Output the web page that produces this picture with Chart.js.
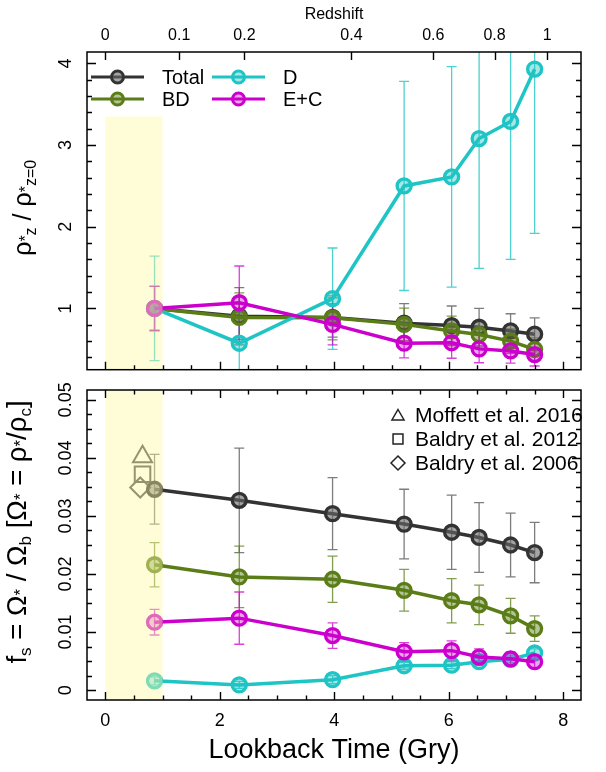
<!DOCTYPE html>
<html>
<head>
<meta charset="utf-8">
<script src="https://cdn.jsdelivr.net/npm/chart.js@4.4.1/dist/chart.umd.min.js"></script>
<style>
  html, body { margin: 0; padding: 0; background: #fff; }
  #wrap { position: relative; width: 606px; height: 772px; }
  #wrap canvas { position: absolute; left: 0; }
</style>
</head>
<body>
<div id="wrap">
  <canvas id="topPanel" width="606" height="380" style="top:0;width:606px;height:380px"></canvas>
  <canvas id="botPanel" width="606" height="395" style="top:377px;width:606px;height:395px"></canvas>
</div>
<script>
/* ---- data ---- */
const lookback = [0.86, 2.34, 3.97, 5.22, 6.05, 6.53, 7.08, 7.50];

// top panel: rho*_z / rho*_z=0
const rhoTotal    = [1.00, 0.905, 0.89, 0.82, 0.79, 0.77, 0.725, 0.685];
const rhoTotalErr = [0.27, 0.35, 0.24, 0.24, 0.24, 0.23, 0.21, 0.20];
const rhoBD       = [1.00, 0.89, 0.885, 0.805, 0.725, 0.68, 0.60, 0.50];
const rhoBDErr    = [0.27, 0.30, 0.27, 0.20, 0.18, 0.17, 0.15, 0.14];
const rhoD        = [1.00, 0.574, 1.12, 2.50, 2.61, 3.08, 3.29, 3.93];
const rhoDErr     = [0.64, 0.38, 0.62, 1.28, 1.35, 1.59, 1.69, 2.01];
const rhoEC       = [1.00, 1.07, 0.805, 0.575, 0.58, 0.505, 0.48, 0.435];
const rhoECErr    = [0.27, 0.45, 0.25, 0.18, 0.19, 0.17, 0.15, 0.14];

// bottom panel: f_s
const fsTotal    = [0.0346, 0.0327, 0.0304, 0.0286, 0.0272, 0.0263, 0.0250, 0.0237];
const fsTotalErr = [0.0060, 0.0090, 0.0062, 0.0060, 0.0064, 0.0060, 0.0055, 0.0052];
const fsBD       = [0.0216, 0.0195, 0.0191, 0.0172, 0.0154, 0.0147, 0.0128, 0.0106];
const fsBDErr    = [0.0038, 0.0053, 0.0040, 0.0036, 0.0038, 0.0034, 0.0030, 0.0022];
const fsD        = [0.0016, 0.0009, 0.0018, 0.0042, 0.0043, 0.0049, 0.0053, 0.0064];
const fsDErr     = [0.0007, 0.0006, 0.0007, 0.0006, 0.0006, 0.0006, 0.0006, 0.0007];
const fsEC       = [0.0117, 0.0124, 0.0094, 0.0066, 0.0068, 0.0057, 0.0054, 0.0049];
const fsECErr    = [0.0022, 0.0045, 0.0022, 0.0016, 0.0017, 0.0014, 0.0012, 0.0011];

// literature values at z~0
const refNames  = ['Moffett et al. 2016', 'Baldry et al. 2012', 'Baldry et al. 2006'];
const refX      = [0.65, 0.65, 0.61];
const refY      = [0.0402, 0.0372, 0.0349];
const refStyles = ['triangle', 'rect', 'rectRot'];

// axes
const xTicks     = [0, 2, 4, 6, 8];
const zLabels    = ['0', '0.1', '0.2', '0.4', '0.6', '0.8', '1'];
const zLookback  = [0, 1.29, 2.43, 4.30, 5.73, 6.80, 7.72];
const rhoTicks   = [1, 2, 3, 4];
const fsTicks    = [0, 0.01, 0.02, 0.03, 0.04, 0.05];
const bandRange  = [0, 1];

const X_MIN = -0.32, X_MAX = 8.31;
const FONT = '"Liberation Sans", Arial, Helvetica, sans-serif';

const COL = {
  total: { line: '#333333', fill: 'rgba(105,105,105,0.6)', err: 'rgba(70,70,70,0.7)' },
  bd:    { line: '#5a7d17', fill: 'rgba(90,125,23,0.45)',  err: 'rgba(90,125,23,0.75)' },
  d:     { line: '#1fc4c4', fill: 'rgba(31,196,196,0.4)',  err: 'rgba(31,196,196,0.8)' },
  ec:    { line: '#cc00cc', fill: 'rgba(204,0,204,0.35)',  err: 'rgba(204,0,204,0.75)' }
};

function series(label, ys, errs, col, order) {
  return {
    label, order,
    data: lookback.map((x, i) => ({ x, y: ys[i] })),
    err: errs, errColor: col.err,
    borderColor: col.line, backgroundColor: col.fill,
    borderWidth: 3.5, tension: 0,
    pointRadius: 7, pointBorderWidth: 3.3,
    pointBackgroundColor: col.fill, pointBorderColor: col.line
  };
}

/* ---- drawing helpers ---- */
function rich(ctx, parts, cx, cy, size) {
  ctx.save();
  ctx.translate(cx, cy);
  ctx.rotate(-Math.PI / 2);
  const fontOf = k => (k ? Math.round(size * 0.62) : size) + 'px ' + FONT;
  let w = 0;
  parts.forEach(([t, k]) => { ctx.font = fontOf(k); w += ctx.measureText(t).width; });
  let xx = -w / 2;
  ctx.fillStyle = '#000';
  ctx.textAlign = 'left';
  ctx.textBaseline = 'alphabetic';
  parts.forEach(([t, k]) => {
    ctx.font = fontOf(k);
    const dy = k === 'sub' ? size * 0.2 : 0;
    ctx.fillText(t, xx, size * 0.36 + dy);
    xx += ctx.measureText(t).width;
  });
  ctx.restore();
}

function marker(ctx, style, x, y, r) {
  ctx.beginPath();
  if (style === 'triangle') {
    ctx.moveTo(x, y - r);
    ctx.lineTo(x + r * 0.866, y + r * 0.5);
    ctx.lineTo(x - r * 0.866, y + r * 0.5);
    ctx.closePath();
  } else if (style === 'rect') {
    const s = r * 0.7071;
    ctx.rect(x - s, y - s, 2 * s, 2 * s);
  } else if (style === 'rectRot') {
    ctx.moveTo(x, y - r); ctx.lineTo(x + r, y); ctx.lineTo(x, y + r); ctx.lineTo(x - r, y);
    ctx.closePath();
  } else {
    ctx.arc(x, y, r, 0, Math.PI * 2);
  }
}

const panelPlugin = {
  id: 'panel',
  beforeDatasetsDraw(chart) {
    const { ctx, chartArea: a, scales: { x, y } } = chart;
    ctx.save();
    ctx.beginPath();
    ctx.rect(a.left, a.top, a.right - a.left, a.bottom - a.top);
    ctx.clip();
    ctx.lineWidth = 1.3;
    chart.data.datasets.forEach(ds => {
      if (!ds.err) return;
      ctx.strokeStyle = ds.errColor;
      ds.data.forEach((p, i) => {
        const px = x.getPixelForValue(p.x);
        const y1 = y.getPixelForValue(p.y - ds.err[i]);
        const y2 = y.getPixelForValue(p.y + ds.err[i]);
        ctx.beginPath();
        ctx.moveTo(px, y1); ctx.lineTo(px, y2);
        ctx.moveTo(px - 5, y1); ctx.lineTo(px + 5, y1);
        ctx.moveTo(px - 5, y2); ctx.lineTo(px + 5, y2);
        ctx.stroke();
      });
    });
    ctx.restore();
  },
  afterDatasetsDraw(chart, args, opts) {
    // pale band marking the local (z~0) normalisation bin
    const { ctx, chartArea: a, scales: { x, y } } = chart;
    const top = opts.bandTop == null ? a.top : y.getPixelForValue(opts.bandTop);
    const x0 = x.getPixelForValue(bandRange[0]), x1 = x.getPixelForValue(bandRange[1]);
    ctx.save();
    ctx.fillStyle = 'rgba(255,250,160,0.42)';
    ctx.fillRect(x0, top, x1 - x0, a.bottom - top);
    ctx.restore();
  },
  afterDraw(chart, args, opts) {
    const { ctx, chartArea: a, scales: { x, y } } = chart;
    ctx.save();
    ctx.strokeStyle = '#000';
    ctx.lineWidth = 1.4;

    // inward x ticks
    ctx.beginPath();
    for (let v = 0; v <= 8.001; v += 0.5) {
      const px = Math.round(x.getPixelForValue(v)) + 0.5;
      const len = Math.abs(v % 2) < 1e-6 ? 8 : 4.5;
      if (opts.tickBottom) { ctx.moveTo(px, a.bottom); ctx.lineTo(px, a.bottom - len); }
      if (opts.tickTop) { ctx.moveTo(px, a.top); ctx.lineTo(px, a.top + len); }
    }
    if (opts.zTop) {
      zLookback.forEach(v => {
        const px = Math.round(x.getPixelForValue(v)) + 0.5;
        ctx.moveTo(px, a.top); ctx.lineTo(px, a.top + 8);
      });
    }
    // inward y ticks, both sides
    const minorStep = opts.yMinor, nMin = Math.ceil(y.min / minorStep), nMax = Math.floor(y.max / minorStep);
    for (let n = nMin; n <= nMax; n++) {
      const v = n * minorStep;
      const py = Math.round(y.getPixelForValue(v)) + 0.5;
      const major = opts.yTicks.some(t => Math.abs(t - v) < minorStep * 0.01);
      const len = major ? 9 : 5;
      ctx.moveTo(a.left, py); ctx.lineTo(a.left + len, py);
      ctx.moveTo(a.right, py); ctx.lineTo(a.right - len, py);
    }
    ctx.stroke();

    // frame
    ctx.lineWidth = 1.5;
    ctx.strokeRect(a.left, a.top, a.right - a.left, a.bottom - a.top);

    // rotated y tick labels
    ctx.fillStyle = '#000';
    ctx.font = '18px ' + FONT;
    ctx.textAlign = 'center';
    ctx.textBaseline = 'middle';
    opts.yTicks.forEach((v, i) => {
      const py = y.getPixelForValue(v);
      ctx.save();
      ctx.translate(66, py);
      ctx.rotate(-Math.PI / 2);
      ctx.fillText(opts.yLabels[i], 0, 0);
      ctx.restore();
    });

    // y title
    rich(ctx, opts.yTitle, opts.titleX, (a.top + a.bottom) / 2 + opts.titleDy, opts.titleSize);

    // legend
    if (opts.legend === 'series') {
      ctx.font = '20px ' + FONT;
      ctx.textAlign = 'left';
      ctx.textBaseline = 'middle';
      opts.legendItems.forEach(it => {
        const ds = chart.data.datasets.find(d => d.label === it.label);
        ctx.strokeStyle = ds.borderColor;
        ctx.lineWidth = 3;
        ctx.beginPath(); ctx.moveTo(it.x, it.y); ctx.lineTo(it.x + 53, it.y); ctx.stroke();
        marker(ctx, 'circle', it.x + 26.5, it.y, 6);
        ctx.fillStyle = ds.pointBackgroundColor; ctx.fill(); ctx.stroke();
        ctx.fillStyle = '#000';
        ctx.fillText(it.label, it.x + 71, it.y + 1);
      });
    } else if (opts.legend === 'refs') {
      ctx.font = '21px ' + FONT;
      ctx.textAlign = 'left';
      ctx.textBaseline = 'middle';
      refNames.forEach((name, i) => {
        const ly = a.top + 25 + i * 24;
        ctx.strokeStyle = '#222';
        ctx.lineWidth = 1.5;
        marker(ctx, refStyles[i], 398, ly + (refStyles[i] === 'triangle' ? 1.5 : 0), 7);
        ctx.stroke();
        ctx.fillStyle = '#000';
        ctx.fillText(name, 415, ly + 1);
      });
    }
    ctx.restore();
  }
};

/* ---- top panel ---- */
new Chart(document.getElementById('topPanel'), {
  type: 'line',
  data: {
    datasets: [
      series('Total', rhoTotal, rhoTotalErr, COL.total, 4),
      series('BD', rhoBD, rhoBDErr, COL.bd, 3),
      series('D', rhoD, rhoDErr, COL.d, 2),
      series('E+C', rhoEC, rhoECErr, COL.ec, 1)
    ]
  },
  options: {
    responsive: false, animation: false, events: [],
    layout: { padding: { left: 87, right: 25, top: 0, bottom: 3 } },
    scales: {
      x: { type: 'linear', min: X_MIN, max: X_MAX, display: false },
      z: {
        type: 'linear', position: 'top', min: X_MIN, max: X_MAX,
        grid: { display: false, drawTicks: false }, border: { display: false },
        afterBuildTicks: s => { s.ticks = zLookback.map(v => ({ value: v })); },
        afterFit: s => { s.height = 52; },
        ticks: {
          autoSkip: false, maxRotation: 0, padding: 7, color: '#000',
          font: { family: FONT, size: 16 },
          callback: (v, i) => zLabels[i]
        },
        title: { display: true, text: 'Redshift', color: '#000', font: { family: FONT, size: 16 }, padding: { top: 5, bottom: 0 } }
      },
      y: { type: 'linear', min: 0.25, max: 4.14, display: false }
    },
    plugins: {
      legend: { display: false }, tooltip: { enabled: false },
      panel: {
        bandTop: 3.35, tickBottom: true, tickTop: false, zTop: true,
        yTicks: rhoTicks, yLabels: rhoTicks.map(String), yMinor: 0.2,
        titleX: 22, titleDy: -3, titleSize: 25,
        yTitle: [['ρ', ''], ['*', 'sup'], ['z', 'sub'], [' / ρ', ''], ['*', 'sup'], ['z=0', 'sub']],
        legend: 'series',
        legendItems: [
          { label: 'Total', x: 91, y: 77 }, { label: 'BD', x: 91, y: 99 },
          { label: 'D', x: 212, y: 77 }, { label: 'E+C', x: 212, y: 99 }
        ]
      }
    }
  },
  plugins: [panelPlugin]
});

/* ---- bottom panel ---- */
const refSet = {
  label: 'refs', order: 5, showLine: false,
  data: refX.map((x, i) => ({ x, y: refY[i] })),
  pointStyle: refStyles, pointRadius: [11, 11, 10], pointBorderWidth: 2,
  pointBorderColor: '#4a4a4a', pointBackgroundColor: 'rgba(0,0,0,0)', borderColor: '#4a4a4a'
};

new Chart(document.getElementById('botPanel'), {
  type: 'line',
  data: {
    datasets: [
      refSet,
      series('Total', fsTotal, fsTotalErr, COL.total, 4),
      series('BD', fsBD, fsBDErr, COL.bd, 3),
      series('D', fsD, fsDErr, COL.d, 2),
      series('E+C', fsEC, fsECErr, COL.ec, 1)
    ]
  },
  options: {
    responsive: false, animation: false, events: [],
    layout: { padding: { left: 87, right: 25, top: 0, bottom: 0 } },
    scales: {
      x: {
        type: 'linear', position: 'bottom', min: X_MIN, max: X_MAX,
        grid: { display: false, drawTicks: false }, border: { display: false },
        afterBuildTicks: s => { s.ticks = xTicks.map(v => ({ value: v })); },
        afterFit: s => { s.height = 72; },
        ticks: { autoSkip: false, maxRotation: 0, padding: 10, color: '#000', font: { family: FONT, size: 18 } },
        title: { display: true, text: 'Lookback Time (Gry)', color: '#000', font: { family: FONT, size: 27 }, padding: { top: 0, bottom: 5 } }
      },
      y: { type: 'linear', min: -0.0017, max: 0.0517, display: false }
    },
    plugins: {
      legend: { display: false }, tooltip: { enabled: false },
      panel: {
        bandTop: null, tickBottom: true, tickTop: true, zTop: false,
        yTicks: fsTicks, yLabels: ['0', '0.01', '0.02', '0.03', '0.04', '0.05'], yMinor: 0.0025,
        titleX: 16, titleDy: -13, titleSize: 27.5,
        yTitle: [['f', ''], ['s', 'sub'], [' = Ω', ''], ['*', 'sup'], [' / Ω', ''], ['b', 'sub'],
                 [' [Ω', ''], ['*', 'sup'], [' = ρ', ''], ['*', 'sup'], ['/ρ', ''], ['c', 'sub'], [']', '']],
        legend: 'refs'
      }
    }
  },
  plugins: [panelPlugin]
});
</script>
</body>
</html>
